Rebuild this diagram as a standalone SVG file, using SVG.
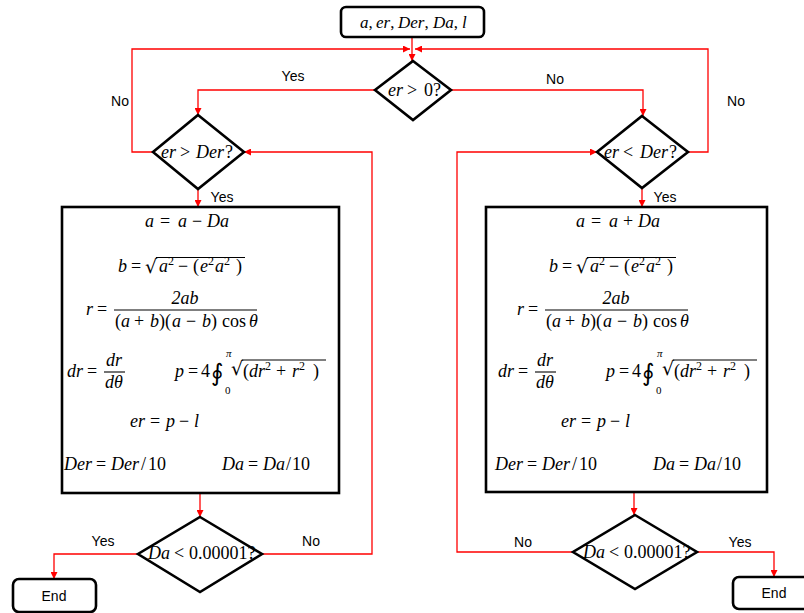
<svg xmlns="http://www.w3.org/2000/svg" width="804" height="613" viewBox="0 0 804 613">
<style>
.bg{fill:#fff}
.node{fill:#fff;stroke:#000;stroke-width:2.6}
.conn path{fill:none;stroke:#f00;stroke-width:1.3}
.lbl{font-family:"Liberation Sans",Arial,sans-serif;font-size:14px;fill:#000;text-anchor:middle}
.end{font-family:"Liberation Sans",Arial,sans-serif;font-size:14px;fill:#000;text-anchor:middle}
.m{font-family:"Liberation Serif","Times New Roman",serif;font-size:18px;fill:#000}
.i{font-style:italic}
.s{font-size:12px}
.rad{font-family:"DejaVu Serif",serif;font-size:19px}
.int{font-family:"DejaVu Serif",serif;font-size:24px}
.sm{font-size:11px}
.rule{stroke:#000;stroke-width:1.1}
</style>
<defs>
<marker id="ah" viewBox="0 0 10 10" refX="10" refY="5" markerWidth="7" markerHeight="7" markerUnits="userSpaceOnUse" orient="auto"><path d="M0,0 L10,5 L0,10 z" fill="#f00"/></marker>
</defs>
<rect class="bg" x="0" y="0" width="804" height="613"/>

<g id="connectors" class="conn">
<path d="M412,37 V61" marker-end="url(#ah)"/>
<path d="M375,90 H198 V115" marker-end="url(#ah)"/>
<path d="M451,90 H643 V116" marker-end="url(#ah)"/>
<path d="M153,152 H132 V49 H410" marker-end="url(#ah)"/>
<path d="M688,152 H708 V49 H415" marker-end="url(#ah)"/>
<path d="M198,189 V207" marker-end="url(#ah)"/>
<path d="M642,188 V207" marker-end="url(#ah)"/>
<path d="M200,493 V517" marker-end="url(#ah)"/>
<path d="M634,492 V515" marker-end="url(#ah)"/>
<path d="M138,554 H54 V579" marker-end="url(#ah)"/>
<path d="M262,554 H372 V152 H244" marker-end="url(#ah)"/>
<path d="M573,552 H457 V152 H597" marker-end="url(#ah)"/>
<path d="M697,552 H774 V577" marker-end="url(#ah)"/>
</g>

<g id="labels">
<text class="lbl" x="293" y="81">Yes</text>
<text class="lbl" x="120" y="106">No</text>
<text class="lbl" x="555" y="84">No</text>
<text class="lbl" x="736" y="106">No</text>
<text class="lbl" x="222" y="202">Yes</text>
<text class="lbl" x="665" y="202">Yes</text>
<text class="lbl" x="103" y="546">Yes</text>
<text class="lbl" x="311" y="546">No</text>
<text class="lbl" x="523" y="547">No</text>
<text class="lbl" x="740" y="547">Yes</text>
</g>

<g id="start">
<rect class="node" x="341" y="7" width="143" height="30" rx="5"/>
<text class="m" y="28" style="font-size:17px"><tspan class="i" x="360">a</tspan><tspan>,</tspan><tspan class="i" x="376">er</tspan><tspan>,</tspan><tspan class="i" x="398">Der</tspan><tspan>,</tspan><tspan class="i" x="433">Da</tspan><tspan>,</tspan><tspan class="i" x="462">l</tspan></text>
</g>

<g id="d-er0">
<polygon class="node" points="413,61 451,90 413,120 375,90"/>
<text class="m" y="96"><tspan class="i" x="388">er</tspan><tspan x="407">&gt;</tspan><tspan x="424">0?</tspan></text>
</g>

<g id="d-gtDer">
<polygon class="node" points="198,115 244,152 198,189 153,152"/>
<text class="m" y="158"><tspan class="i" x="161">er</tspan><tspan x="180">&gt;</tspan><tspan class="i" x="196">Der</tspan><tspan x="225">?</tspan></text>
</g>

<g id="d-ltDer">
<polygon class="node" points="642,116 688,152 642,188 597,152"/>
<text class="m" y="158"><tspan class="i" x="604">er</tspan><tspan x="623">&lt;</tspan><tspan class="i" x="640">Der</tspan><tspan x="669">?</tspan></text>
</g>

<g id="box-left">
<rect class="node" x="62" y="207" width="277" height="286"/>
<text class="m" y="227"><tspan class="i" x="145">a</tspan><tspan x="160">=</tspan><tspan class="i" x="178">a</tspan><tspan x="192">−</tspan><tspan class="i" x="207">Da</tspan></text>
<text class="m" y="272"><tspan class="i" x="118">b</tspan><tspan x="131">=</tspan></text>
<text class="m rad" x="145" y="273">√</text>
<line class="rule" x1="156" y1="257.5" x2="245" y2="257.5"/>
<text class="m" y="272"><tspan class="i" x="159">a</tspan><tspan class="s" x="168" dy="-7">2</tspan><tspan x="178" dy="7">−</tspan><tspan x="193">(</tspan><tspan class="i" x="200">e</tspan><tspan class="s" x="208" dy="-7">2</tspan><tspan class="i" x="215" dy="7">a</tspan><tspan class="s" x="224" dy="-7">2</tspan><tspan x="236" dy="7">)</tspan></text>
<text class="m" y="315"><tspan class="i" x="86">r</tspan><tspan x="97">=</tspan></text>
<text class="m i" x="185" y="304" text-anchor="middle">2<tspan>ab</tspan></text>
<line class="rule" x1="114" y1="310" x2="257" y2="310"/>
<text class="m" y="327"><tspan x="115">(</tspan><tspan class="i" x="121">a</tspan><tspan x="134">+</tspan><tspan class="i" x="150">b</tspan><tspan x="159">)(</tspan><tspan class="i" x="172">a</tspan><tspan x="186">−</tspan><tspan class="i" x="202">b</tspan><tspan x="211">)</tspan><tspan x="222">cos</tspan><tspan class="i" x="249">θ</tspan></text>
<text class="m" y="377"><tspan class="i" x="67">dr</tspan><tspan x="87">=</tspan></text>
<text class="m i" x="114" y="366" text-anchor="middle">dr</text>
<line class="rule" x1="104" y1="372" x2="125" y2="372"/>
<text class="m i" x="114" y="388" text-anchor="middle">dθ</text>
<text class="m" y="377"><tspan class="i" x="175">p</tspan><tspan x="188">=</tspan><tspan x="201">4</tspan></text>
<text class="m int" x="211" y="381">∮</text>
<text class="m i sm" x="226" y="357">π</text>
<text class="m sm" x="225" y="394">0</text>
<text class="m rad" x="231" y="375">√</text>
<line class="rule" x1="242" y1="360" x2="326" y2="360"/>
<text class="m" y="377"><tspan x="243">(</tspan><tspan class="i" x="249">dr</tspan><tspan class="s" x="265" dy="-7">2</tspan><tspan x="276" dy="7">+</tspan><tspan class="i" x="292">r</tspan><tspan class="s" x="299" dy="-7">2</tspan><tspan x="313" dy="7">)</tspan></text>
<text class="m" y="427"><tspan class="i" x="130">er</tspan><tspan x="150">=</tspan><tspan class="i" x="166">p</tspan><tspan x="179">−</tspan><tspan class="i" x="194">l</tspan></text>
<text class="m" y="470"><tspan class="i" x="64">Der</tspan><tspan x="96">=</tspan><tspan class="i" x="111">Der</tspan><tspan x="141">/</tspan><tspan x="148">10</tspan></text>
<text class="m" y="470"><tspan class="i" x="222">Da</tspan><tspan x="248">=</tspan><tspan class="i" x="263">Da</tspan><tspan x="286">/</tspan><tspan x="292">10</tspan></text>
</g>

<g id="box-right">
<rect class="node" x="486" y="207" width="281" height="285"/>
<text class="m" y="227"><tspan class="i" x="576">a</tspan><tspan x="591">=</tspan><tspan class="i" x="609">a</tspan><tspan x="623">+</tspan><tspan class="i" x="638">Da</tspan></text>
<g transform="translate(431,0)">
<text class="m" y="272"><tspan class="i" x="118">b</tspan><tspan x="131">=</tspan></text>
<text class="m rad" x="145" y="273">√</text>
<line class="rule" x1="156" y1="257.5" x2="245" y2="257.5"/>
<text class="m" y="272"><tspan class="i" x="159">a</tspan><tspan class="s" x="168" dy="-7">2</tspan><tspan x="178" dy="7">−</tspan><tspan x="193">(</tspan><tspan class="i" x="200">e</tspan><tspan class="s" x="208" dy="-7">2</tspan><tspan class="i" x="215" dy="7">a</tspan><tspan class="s" x="224" dy="-7">2</tspan><tspan x="236" dy="7">)</tspan></text>
<text class="m" y="315"><tspan class="i" x="86">r</tspan><tspan x="97">=</tspan></text>
<text class="m i" x="185" y="304" text-anchor="middle">2<tspan>ab</tspan></text>
<line class="rule" x1="114" y1="310" x2="257" y2="310"/>
<text class="m" y="327"><tspan x="115">(</tspan><tspan class="i" x="121">a</tspan><tspan x="134">+</tspan><tspan class="i" x="150">b</tspan><tspan x="159">)(</tspan><tspan class="i" x="172">a</tspan><tspan x="186">−</tspan><tspan class="i" x="202">b</tspan><tspan x="211">)</tspan><tspan x="222">cos</tspan><tspan class="i" x="249">θ</tspan></text>
<text class="m" y="377"><tspan class="i" x="67">dr</tspan><tspan x="87">=</tspan></text>
<text class="m i" x="114" y="366" text-anchor="middle">dr</text>
<line class="rule" x1="104" y1="372" x2="125" y2="372"/>
<text class="m i" x="114" y="388" text-anchor="middle">dθ</text>
<text class="m" y="377"><tspan class="i" x="175">p</tspan><tspan x="188">=</tspan><tspan x="201">4</tspan></text>
<text class="m int" x="211" y="381">∮</text>
<text class="m i sm" x="226" y="357">π</text>
<text class="m sm" x="225" y="394">0</text>
<text class="m rad" x="231" y="375">√</text>
<line class="rule" x1="242" y1="360" x2="326" y2="360"/>
<text class="m" y="377"><tspan x="243">(</tspan><tspan class="i" x="249">dr</tspan><tspan class="s" x="265" dy="-7">2</tspan><tspan x="276" dy="7">+</tspan><tspan class="i" x="292">r</tspan><tspan class="s" x="299" dy="-7">2</tspan><tspan x="313" dy="7">)</tspan></text>
<text class="m" y="427"><tspan class="i" x="130">er</tspan><tspan x="150">=</tspan><tspan class="i" x="166">p</tspan><tspan x="179">−</tspan><tspan class="i" x="194">l</tspan></text>
<text class="m" y="470"><tspan class="i" x="64">Der</tspan><tspan x="96">=</tspan><tspan class="i" x="111">Der</tspan><tspan x="141">/</tspan><tspan x="148">10</tspan></text>
<text class="m" y="470"><tspan class="i" x="222">Da</tspan><tspan x="248">=</tspan><tspan class="i" x="263">Da</tspan><tspan x="286">/</tspan><tspan x="292">10</tspan></text>
</g>
</g>

<g id="d-da-left">
<polygon class="node" points="200,517 262,554 200,592 138,554"/>
<text class="m" y="559"><tspan class="i" x="148">Da</tspan><tspan x="174">&lt;</tspan><tspan x="189">0.00001?</tspan></text>
</g>

<g id="d-da-right">
<polygon class="node" points="635,515 697,552 635,589 573,552"/>
<text class="m" y="558"><tspan class="i" x="583">Da</tspan><tspan x="609">&lt;</tspan><tspan x="624">0.00001?</tspan></text>
</g>

<g id="end-left">
<rect class="node" x="13" y="579" width="83" height="33" rx="6"/>
<text class="end" x="54" y="601">End</text>
</g>

<g id="end-right">
<rect class="node" x="733" y="577" width="82" height="32" rx="6"/>
<text class="end" x="774" y="598">End</text>
</g>
</svg>
